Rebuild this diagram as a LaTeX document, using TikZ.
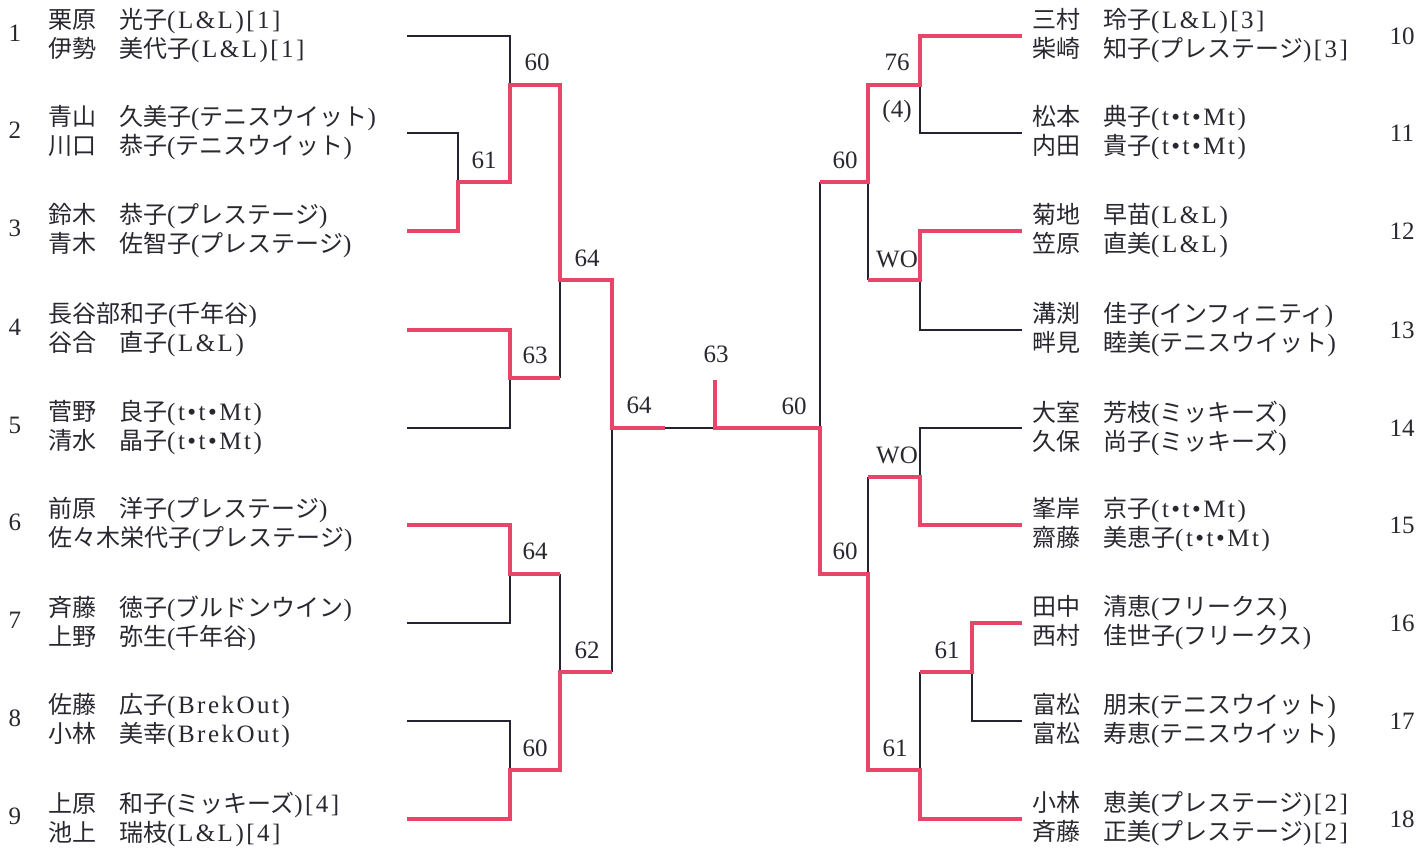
\documentclass[tikz,border=0pt]{standalone}
\usepackage{fontspec}
\setmainfont{Liberation Serif}
\newfontfamily\cjk[Scale=0.96]{Noto Sans CJK JP}
\newfontfamily\lat[LetterSpace=10]{Liberation Serif}
\newcommand\J[1]{{\cjk #1}}
\newcommand\nm[3]{\makebox[71pt][l]{\cjk #1}{\cjk #2}{\lat #3}}
\definecolor{winred}{RGB}{232,70,105}
\definecolor{ink}{RGB}{35,35,50}
\definecolor{txt}{RGB}{40,40,48}
\begin{document}
\begin{tikzpicture}[x=1pt,y=-1pt,
  blk/.style={draw=ink,line width=1.8pt},
  win/.style={draw=winred,line width=4.4pt,line join=miter},
  entry/.style={inner sep=0pt,align=left,text=txt,font=\fontsize{25pt}{29pt}\selectfont},
  lentry/.style={entry,anchor=west},
  seedno/.style={inner sep=0pt,text=txt,font=\fontsize{25pt}{29pt}\selectfont},
  score/.style={inner sep=0pt,text=txt,font=\fontsize{25pt}{29pt}\selectfont}]
\useasboundingbox[fill=white] (0,0) rectangle (1427,852);

% ---------- left entries ----------
\node[lentry] (n1) at (48,36) {\nm{栗原}{光子}{(L\&L)[1]}\\\nm{伊勢}{美代子}{(L\&L)[1]}};
\node[lentry] (n2) at (48,133) {\nm{青山}{久美子}{(\J{テニスウイット})}\\\nm{川口}{恭子}{(\J{テニスウイット})}};
\node[lentry] (n3) at (48,231) {\nm{鈴木}{恭子}{(\J{プレステージ})}\\\nm{青木}{佐智子}{(\J{プレステージ})}};
\node[lentry] (n4) at (48,330) {{\cjk 長谷部和子}{\lat(\J{千年谷})}\\\nm{谷合}{直子}{(L\&L)}};
\node[lentry] (n5) at (48,428) {\nm{菅野}{良子}{(t•t•Mt)}\\\nm{清水}{晶子}{(t•t•Mt)}};
\node[lentry] (n6) at (48,525) {\nm{前原}{洋子}{(\J{プレステージ})}\\{\cjk 佐々木栄代子}{\lat(\J{プレステージ})}};
\node[lentry] (n7) at (48,623) {\nm{斉藤}{徳子}{(\J{ブルドンウイン})}\\\nm{上野}{弥生}{(\J{千年谷})}};
\node[lentry] (n8) at (48,721) {\nm{佐藤}{広子}{(BrekOut)}\\\nm{小林}{美幸}{(BrekOut)}};
\node[lentry] (n9) at (48,819) {\nm{上原}{和子}{(\J{ミッキーズ})[4]}\\\nm{池上}{瑞枝}{(L\&L)[4]}};

% ---------- right entries ----------
\node[lentry] (n10) at (1032,36) {\nm{三村}{玲子}{(L\&L)[3]}\\\nm{柴崎}{知子}{(\J{プレステージ})[3]}};
\node[lentry] (n11) at (1032,133) {\nm{松本}{典子}{(t•t•Mt)}\\\nm{内田}{貴子}{(t•t•Mt)}};
\node[lentry] (n12) at (1032,231) {\nm{菊地}{早苗}{(L\&L)}\\\nm{笠原}{直美}{(L\&L)}};
\node[lentry] (n13) at (1032,330) {\nm{溝渕}{佳子}{(\J{インフィニティ})}\\\nm{畔見}{睦美}{(\J{テニスウイット})}};
\node[lentry] (n14) at (1032,428) {\nm{大室}{芳枝}{(\J{ミッキーズ})}\\\nm{久保}{尚子}{(\J{ミッキーズ})}};
\node[lentry] (n15) at (1032,525) {\nm{峯岸}{京子}{(t•t•Mt)}\\\nm{齋藤}{美恵子}{(t•t•Mt)}};
\node[lentry] (n16) at (1032,623) {\nm{田中}{清恵}{(\J{フリークス})}\\\nm{西村}{佳世子}{(\J{フリークス})}};
\node[lentry] (n17) at (1032,721) {\nm{富松}{朋末}{(\J{テニスウイット})}\\\nm{富松}{寿恵}{(\J{テニスウイット})}};
\node[lentry] (n18) at (1032,819) {\nm{小林}{恵美}{(\J{プレステージ})[2]}\\\nm{斉藤}{正美}{(\J{プレステージ})[2]}};

% ---------- seed numbers ----------
\foreach \i/\y in {1/36,2/133,3/231,4/330,5/428,6/525,7/623,8/721,9/819}
  \node[seedno] (k\i) at (15,\y-3) {\i};
\foreach \i/\y in {10/36,11/133,12/231,13/330,14/428,15/525,16/623,17/721,18/819}
  \node[seedno] (k\i) at (1402,\y) {\i};

% ---------- line end coordinates ----------
\foreach \i/\y in {1/36,2/133,3/231,4/330,5/428,6/525,7/623,8/721,9/819}
  \coordinate (a\i) at (407,\y);
\foreach \i/\y in {10/36,11/133,12/231,13/330,14/428,15/525,16/623,17/721,18/819}
  \coordinate (b\i) at (1022,\y);
\coordinate (top) at (715,380);
\coordinate (ctr) at (715,428);

% ---------- black (losing) lines ----------
\draw[blk] (a1) -- (510,36) -- (510,85);
\draw[blk] (a2) -- (458,133) -- (458,182);
\draw[blk] (560,280) -- (560,378);
\draw[blk] (510,378) -- (510,428) -- (a5);
\draw[blk] (612,428) -- (612,672);
\draw[blk] (510,574) -- (510,623) -- (a7);
\draw[blk] (560,574) -- (560,672);
\draw[blk] (a8) -- (510,721) -- (510,770);
\draw[blk] (665,428) -- (ctr);
\draw[blk] (920,85) -- (920,133) -- (b11);
\draw[blk] (868,182) -- (868,280);
\draw[blk] (920,280) -- (920,330) -- (b13);
\draw[blk] (820,182) -- (820,428);
\draw[blk] (b14) -- (920,428) -- (920,477);
\draw[blk] (868,477) -- (868,574);
\draw[blk] (972,672) -- (972,721) -- (b17);
\draw[blk] (920,672) -- (920,770);

% ---------- red (winning) lines ----------
\draw[win] (a3) -- (458,231) -- (458,182) -- (510,182) -- (510,85) -- (560,85) -- (560,280) -- (612,280) -- (612,428) -- (665,428);
\draw[win] (a4) -- (510,330) -- (510,378) -- (560,378);
\draw[win] (a6) -- (510,525) -- (510,574) -- (560,574);
\draw[win] (a9) -- (510,819) -- (510,770) -- (560,770) -- (560,672) -- (612,672);
\draw[win] (top) -- (ctr) -- (820,428) -- (820,574) -- (868,574) -- (868,770) -- (920,770) -- (920,819) -- (b18);
\draw[win] (b10) -- (920,36) -- (920,85) -- (868,85) -- (868,182) -- (820,182);
\draw[win] (b12) -- (920,231) -- (920,280) -- (868,280);
\draw[win] (b15) -- (920,525) -- (920,477) -- (868,477);
\draw[win] (b16) -- (972,623) -- (972,672) -- (920,672);

% ---------- scores ----------
\node[score] (s1) at (537,62) {60};
\node[score] (s2) at (484,160) {61};
\node[score] (s3) at (587,258) {64};
\node[score] (s4) at (535,355) {63};
\node[score] (s5) at (639,405) {64};
\node[score] (s6) at (716,354) {63};
\node[score] (s7) at (535,551) {64};
\node[score] (s8) at (587,650) {62};
\node[score] (s9) at (535,748) {60};
\node[score] (s10) at (897,62) {76};
\node[score] (s11) at (897,111) {(4)};
\node[score] (s12) at (845,160) {60};
\node[score] (s13) at (897,259) {WO};
\node[score] (s14) at (794,406) {60};
\node[score] (s15) at (897,455) {WO};
\node[score] (s16) at (845,551) {60};
\node[score] (s17) at (947,650) {61};
\node[score] (s18) at (895,748) {61};
\end{tikzpicture}
\end{document}
